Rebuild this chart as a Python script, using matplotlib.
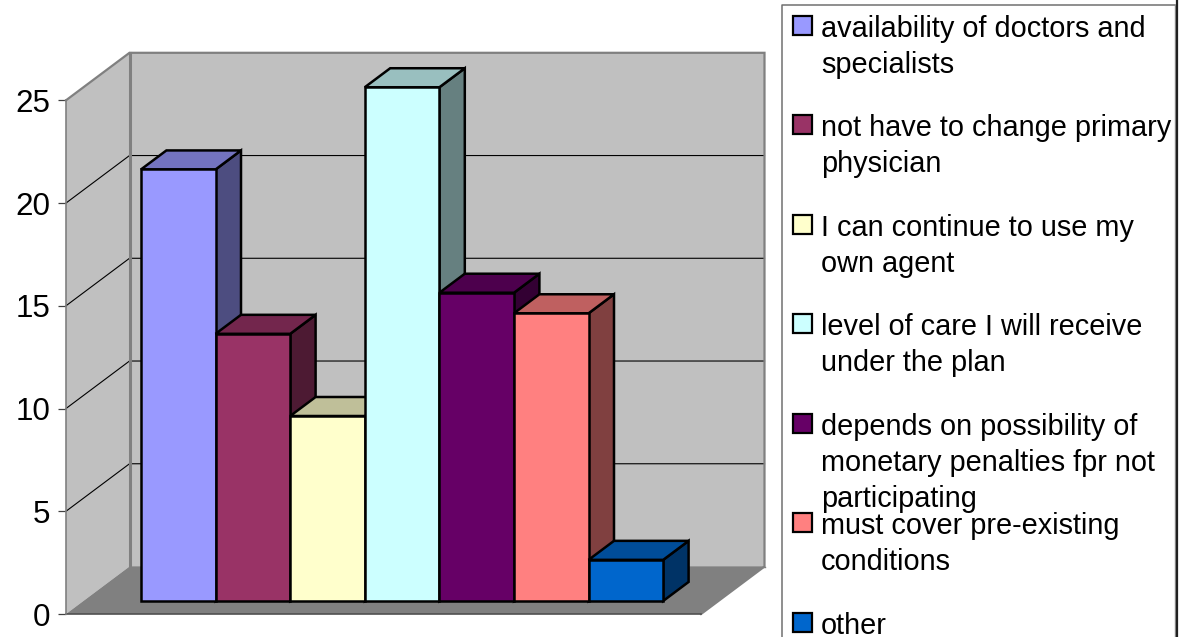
# -*- coding: utf-8 -*-
import matplotlib
matplotlib.use("Agg")
import matplotlib.pyplot as plt
import numpy as np
from matplotlib.lines import Line2D
from matplotlib.patches import Polygon, Rectangle
from matplotlib.transforms import Affine2D

plt.rcParams["font.family"] = ["Liberation Sans", "DejaVu Sans"]

values = [21, 13, 9, 25, 15, 14, 2]
colors = ["#9999FF", "#993366", "#FFFFCC", "#CCFFFF", "#660066", "#FF8080", "#0066CC"]
legend_lines = [
    ["availability of doctors and", "specialists"],
    ["not have to change primary", "physician"],
    ["I can continue to use my", "own agent"],
    ["level of care I will receive", "under the plan"],
    ["depends on possibility of", "monetary penalties fpr not", "participating"],
    ["must cover pre-existing", "conditions"],
    ["other"],
]
legend_tops = [26, 125, 225, 324, 424, 523, 623]
y_ticks = [0, 5, 10, 15, 20, 25]

W, H = 1182, 637
LINE_GAP = 36

# box geometry in pixels
AX_LEFT, AX_RIGHT, AX_TOP, AX_BOTTOM = 66, 701, 100.3, 614
CAT_PX = 74.6

fig = plt.figure(figsize=(W / 100, H / 100), dpi=100)
ax = fig.add_axes([AX_LEFT / W, 1 - AX_BOTTOM / H,
                   (AX_RIGHT - AX_LEFT) / W, (AX_BOTTOM - AX_TOP) / H])
ax.set_xlim(0, (AX_RIGHT - AX_LEFT) / CAT_PX)
ax.set_ylim(0, 25)
ax.patch.set_visible(False)

x_max = ax.get_xlim()[1]
y_scale = (AX_BOTTOM - AX_TOP) / 25
wall_dx = 63.5 / CAT_PX
wall_dy = 47.5 / y_scale


def proj(x, v, d):
    # shift a point on the front plane back to depth d (0 front, 1 back wall)
    return x + d * wall_dx, v + d * wall_dy


def face(pts, color, lw, edge="black", z=2):
    ax.add_patch(Polygon(pts, closed=True, facecolor=color, edgecolor=edge, linewidth=lw,
                         joinstyle="miter", clip_on=False, zorder=z))


def shade(color, k):
    rgb = np.array(matplotlib.colors.to_rgb(color))
    return tuple(rgb * k)


GRAY = "#808080"
WALL = "#C0C0C0"

# back wall, side wall, floor
face([proj(0, 0, 1), proj(x_max, 0, 1), proj(x_max, 25, 1), proj(0, 25, 1)], WALL, 0, WALL, 1)
face([proj(0, 0, 0), proj(0, 0, 1), proj(0, 25, 1), proj(0, 25, 0)], WALL, 0, WALL, 1)
face([proj(0, 0, 0), proj(x_max, 0, 0), proj(x_max, 0, 1), proj(0, 0, 1)], GRAY, 0, GRAY, 1)

# gridlines run along the side wall and then across the back wall
for t in y_ticks[1:-1]:
    pts = [proj(0, t, 0), proj(0, t, 1), proj(x_max, t, 1)]
    ax.plot(*zip(*pts), color="black", lw=0.8, clip_on=False, zorder=1.5)

# wall borders
ax.plot(*zip(proj(0, 25, 0), proj(0, 25, 1), proj(x_max, 25, 1), proj(x_max, 0, 1), proj(x_max, 0, 0)),
        color=GRAY, lw=1.6, clip_on=False, zorder=1.6, solid_joinstyle="miter")
ax.plot(*zip(proj(0, 0, 1), proj(0, 25, 1)), color=GRAY, lw=2.2, clip_on=False, zorder=1.6)
ax.plot(*zip(proj(x_max, 0, 1), proj(0, 0, 1)), color=GRAY, lw=1.0, clip_on=False, zorder=1.6)
ax.plot(*zip(proj(0, 0, 0), proj(x_max, 0, 0)), color="#505050", lw=1.2, clip_on=False, zorder=1.6)

# bars, drawn left to right so each one covers its neighbour's side face
front, back = 0.275, 0.675
x0 = (141 - AX_LEFT) / CAT_PX - front * wall_dx
for i, (v, c) in enumerate(zip(values, colors)):
    l, r = x0 + i, x0 + i + 1
    z = 2 + i * 0.1
    face([proj(r, 0, front), proj(r, 0, back), proj(r, v, back), proj(r, v, front)], shade(c, 0.5), 1.8, z=z)
    face([proj(l, v, front), proj(r, v, front), proj(r, v, back), proj(l, v, back)], shade(c, 0.75), 1.8, z=z)
    face([proj(l, 0, front), proj(r, 0, front), proj(r, v, front), proj(l, v, front)], c, 1.8, z=z)

# value axis
for name in ["top", "right", "bottom"]:
    ax.spines[name].set_visible(False)
ax.spines["left"].set_color(GRAY)
ax.spines["left"].set_linewidth(1.2)
ax.set_xticks([])
ax.set_yticks(y_ticks)
ax.tick_params(axis="y", length=5.8, width=0.9, color="#404040", labelsize=22.6, pad=5.5)

# legend panel, laid out in pixels
px = Affine2D().scale(1 / W, -1 / H).translate(0, 1) + fig.transFigure
fig.add_artist(Line2D([782, 782, 1174.5], [H + 5, 5, 5], transform=px, color="#707070", lw=1.1))
fig.add_artist(Line2D([1175, 1175], [5, H + 5], transform=px, color="#909090", lw=1.0))
fig.add_artist(Line2D([1176.5, 1176.5], [-2, H + 5], transform=px, color="#202020", lw=1.6))

for color, lines, top in zip(colors, legend_lines, legend_tops):
    fig.add_artist(Rectangle((792.5, top - 10), 19, 19, transform=px, facecolor=color,
                             edgecolor="black", linewidth=1.6))
    for k, line in enumerate(lines):
        fig.text(821, top + k * LINE_GAP, line, transform=px, fontsize=20.8,
                 va="center_baseline", ha="left", color="black")

fig.savefig("out.png", dpi=100)
